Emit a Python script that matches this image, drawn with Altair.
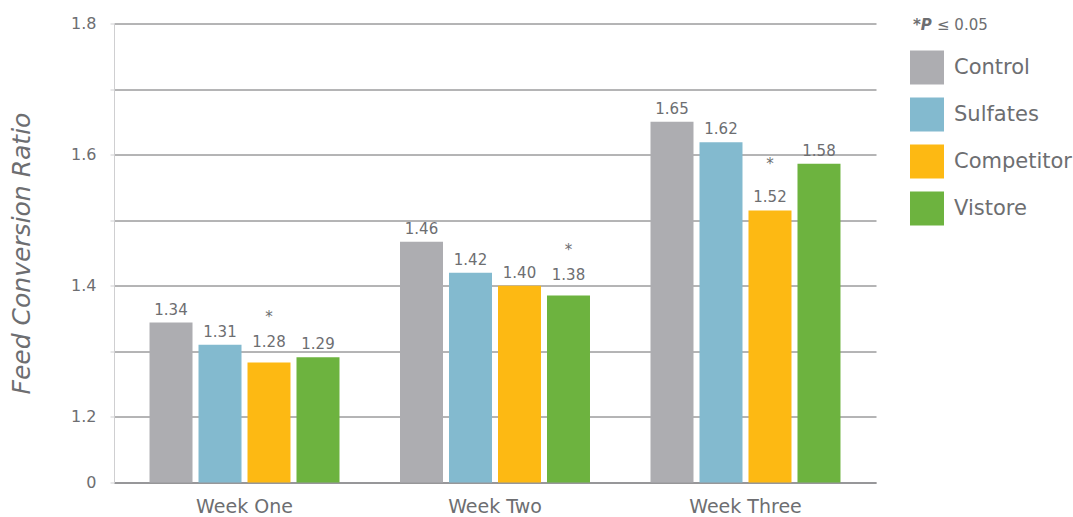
import altair as alt
import pandas as pd

# ---- data ----
weeks = ["Week One", "Week Two", "Week Three"]
groups = ["Control", "Sulfates", "Competitor", "Vistore"]
control = [1.344, 1.467, 1.650]
sulfates = [1.310, 1.420, 1.619]
competitor = [1.283, 1.400, 1.515]
vistore = [1.291, 1.385, 1.586]
labels = {
    "Control": ["1.34", "1.46", "1.65"],
    "Sulfates": ["1.31", "1.42", "1.62"],
    "Competitor": ["1.28", "1.40", "1.52"],
    "Vistore": ["1.29", "1.38", "1.58"],
}
significant = [("Week One", "Competitor"), ("Week Two", "Vistore"), ("Week Three", "Competitor")]

# ---- style ----
colors = ["#ADADB1", "#83BACF", "#FDB913", "#6DB33F"]
TXT = "#6D6E71"
FONT = "DejaVu Sans"
raised = [("Week One", "Competitor"), ("Week Two", "Vistore")]

series = {"Control": control, "Sulfates": sulfates, "Competitor": competitor, "Vistore": vistore}
rows = []
for g in groups:
    for i, w in enumerate(weeks):
        rows.append({
            "week": w, "group": g, "value": series[g][i], "label": labels[g][i],
            "sig": (w, g) in significant,
            "raised": (w, g) in raised,
        })
df = pd.DataFrame(rows)

tick_vals = [round(1.1 + 0.05 * k, 2) for k in range(15)]
Y_MIN, Y_MAX = 1.1, 1.8

x_enc = alt.X("week:N", sort=weeks, title=None,
              scale=alt.Scale(paddingInner=0.2176, paddingOuter=0.1298),
              axis=alt.Axis(labelFontSize=19, labelColor=TXT, labelFont=FONT, ticks=False,
                            labelPadding=15, domainColor="#8E8E90", domainWidth=1.5,
                            labelAngle=0))
xo_enc = alt.XOffset("group:N", sort=groups,
                     scale=alt.Scale(paddingInner=0.1224, paddingOuter=0.0612))
y_enc = alt.Y("value:Q", title="Feed Conversion Ratio",
              scale=alt.Scale(domain=[Y_MIN, Y_MAX], zero=False, nice=False),
              axis=alt.Axis(values=tick_vals,
                            labelExpr="abs(datum.value-1.1)<0.001 ? '0' : (abs(datum.value*5-round(datum.value*5))<0.001 ? format(datum.value,'.1f') : '')",
                            labelFontSize=16, labelColor=TXT, labelFont=FONT, labelPadding=14,
                            tickSize=4, tickColor="#CFCFD1", domainColor="#CFCFD1",
                            grid=True, gridColor="#6A6A6D", gridWidth=1,
                            gridOpacity={"condition": {"test": "abs(datum.value*10-round(datum.value*10))<0.001", "value": 1}, "value": 0},
                            titleFontSize=25, titleFont=FONT, titleFontStyle="italic",
                            titleFontWeight="normal", titleColor=TXT, titlePadding=36))

base = alt.Chart(df)

bars = base.mark_bar().encode(
    x=x_enc, xOffset=xo_enc, y=y_enc, y2=alt.Y2(datum=Y_MIN),
    color=alt.Color("group:N", sort=groups,
                    scale=alt.Scale(domain=groups, range=colors),
                    legend=alt.Legend(title=None, orient="none", legendX=796, legendY=27,
                                      symbolType="square", symbolSize=1156, symbolStrokeWidth=0,
                                      labelFontSize=21, labelFont=FONT, labelColor=TXT,
                                      labelOffset=10, rowPadding=13, padding=0)),
)

def label_layer(flt, dy):
    return base.transform_filter(flt).mark_text(
        baseline="alphabetic", fontSize=15, font=FONT, color=TXT, dy=dy).encode(
        x=alt.X("week:N", sort=weeks), xOffset=alt.XOffset("group:N", sort=groups),
        y="value:Q", text="label:N",
    )

text_normal = label_layer("!datum.raised", -8)
text_raised = label_layer("datum.raised", -16)

stars = base.transform_filter("datum.sig").mark_text(
    baseline="middle", fontSize=15, font=FONT, color=TXT, dy=-46).encode(
    x=alt.X("week:N", sort=weeks), xOffset=alt.XOffset("group:N", sort=groups),
    y="value:Q", text=alt.value("*"),
)

leg_t1 = alt.Chart(pd.DataFrame({"t": ["*P"]})).mark_text(
    align="left", baseline="alphabetic", fontSize=15, font=FONT, fontWeight="bold",
    fontStyle="italic", color=TXT).encode(x=alt.value(799), y=alt.value(6.5), text="t:N")
leg_t2 = alt.Chart(pd.DataFrame({"t": ["≤ 0.05"]})).mark_text(
    align="left", baseline="alphabetic", fontSize=15, font=FONT, color=TXT).encode(
    x=alt.value(823), y=alt.value(6.5), text="t:N")

chart = alt.layer(bars, text_normal, text_raised, stars, leg_t1, leg_t2).properties(
    width=762, height=459,
    autosize=alt.AutoSizeParams(type="none"),
    padding={"left": 114, "top": 23.5, "right": 197, "bottom": 34.5},
    background="white",
).configure_view(stroke=None)

chart.save("out.html", embed_options={"renderer": "svg", "actions": False})
